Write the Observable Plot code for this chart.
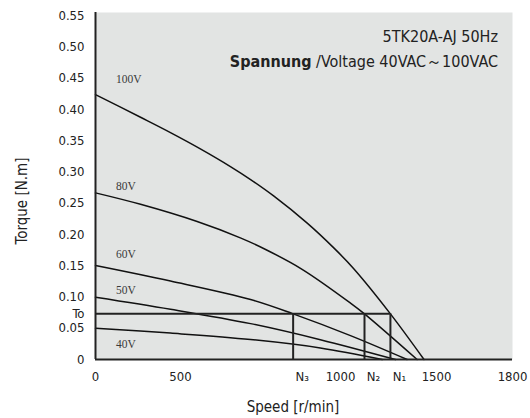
<!DOCTYPE html>
<html>
<head>
<meta charset="utf-8">
<script src="https://cdn.jsdelivr.net/npm/d3@7"></script>
<script src="https://cdn.jsdelivr.net/npm/@observablehq/plot@0.6"></script>
<style>
  html, body { margin: 0; padding: 0; background: #fff; }
  #chart { position: relative; width: 530px; height: 418px; }
  #title {
    position: absolute; right: 32px; top: 24px;
    text-align: right; line-height: 25px; font-size: 16px; color: #222;
    font-family: "Liberation Sans Narrow", "DejaVu Sans Condensed", "Arial Narrow", sans-serif;
    white-space: nowrap;
  }
  #title b { font-weight: bold; }
</style>
</head>
<body>
<div id="chart">
  <div id="title">5TK20A-AJ 50Hz<br><b>Spannung</b> /Voltage 40VAC～100VAC</div>
</div>
<script>
// Speed–torque curves of the 5TK20A-AJ motor at 50 Hz, for several supply voltages.
const speedTicks = [0, 500, 1000, 1500, 1800];
const torqueTicks = [0, 0.05, 0.10, 0.15, 0.20, 0.25, 0.30, 0.35, 0.40, 0.45, 0.50, 0.55];

const speed100 = [0, 265, 441, 562, 656, 719, 791, 896, 979, 1069, 1260, 1435];
const torque100 = [0.4237, 0.3874, 0.3629, 0.3369, 0.3086, 0.2878, 0.2616, 0.2181, 0.1785, 0.1452, 0.073, 0];
const speed80 = [0, 265, 552, 687, 766, 880, 1052, 1125, 1399];
const torque80 = [0.2665, 0.2482, 0.2207, 0.1946, 0.1760, 0.1443, 0.0903, 0.073, 0];
const speed60 = [0, 441, 719, 852, 1052, 1347];
const torque60 = [0.1503, 0.1255, 0.0959, 0.073, 0.0382, 0];
const speed50 = [0, 441, 719, 937, 1286];
const torque50 = [0.0996, 0.0804, 0.0574, 0.0317, 0];
const speed40 = [0, 441, 719, 937, 1217];
const torque40 = [0.050, 0.0422, 0.032, 0.0185, 0];

const voltages = ["100V", "80V", "60V", "50V", "40V"];
const voltageLabelSpeed = [120, 120, 120, 120, 120];
const voltageLabelTorque = [0.448, 0.277, 0.169, 0.111, 0.025];

// rated torque To and the speeds N3, N2, N1 where it is reached
const To = 0.073;
const nNames = ["N₃", "N₂", "N₁"];
const nSpeeds = [852, 1125, 1260];

// The speed axis is not evenly graduated: each labelled interval gets its own width.
const speedAxis = d3.scaleLinear().domain(speedTicks).range([0, 85, 245, 341, 417]);
const sx = v => speedAxis(v);

const curves = [
  [voltages[0], speed100, torque100],
  [voltages[1], speed80, torque80],
  [voltages[2], speed60, torque60],
  [voltages[3], speed50, torque50],
  [voltages[4], speed40, torque40]
].flatMap(([v, s, t]) => s.map((sp, i) => ({voltage: v, speed: sp, torque: t[i]})));

const voltageLabels = voltages.map((v, i) => ({label: v, speed: voltageLabelSpeed[i], torque: voltageLabelTorque[i]}));
const nMarks = nNames.map((n, i) => ({name: n, speed: nSpeeds[i]}));

const narrow = '"Liberation Sans Narrow", "DejaVu Sans Condensed", "Arial Narrow", sans-serif';
const ink = "#222";

const chart = Plot.plot({
  width: 530,
  height: 418,
  marginLeft: 95,
  marginRight: 18,
  marginTop: 12,
  marginBottom: 59,
  style: {fontFamily: narrow, fontSize: "13px", color: ink, background: "#fff"},
  x: {domain: [sx(0), sx(1800)]},
  y: {domain: [0, 0.555]},
  marks: [
    Plot.frame({fill: "#e2e4e3", stroke: "none"}),
    Plot.axisX({ticks: speedTicks.map(sx), tickSize: 0, tickPadding: 12, label: null, fontSize: 13,
      tickFormat: d => String(Math.round(speedAxis.invert(d)))}),
    Plot.axisY({ticks: [...torqueTicks, To], tickSize: 0, tickPadding: 11, label: null, fontSize: 13,
      tickFormat: d => d === To ? "To" : d === 0 ? "0" : d.toFixed(2)}),
    Plot.text(nMarks, {x: d => sx(d.speed), text: "name", frameAnchor: "bottom", lineAnchor: "top",
      dy: 12, dx: 9, fontSize: 13, fill: ink}),
    Plot.line(curves, {x: d => sx(d.speed), y: "torque", z: "voltage", curve: "catmull-rom", stroke: "#111", strokeWidth: 1.5}),
    Plot.ruleY([To], {x1: sx(0), x2: sx(nSpeeds[2]), stroke: ink, strokeWidth: 2}),
    Plot.ruleX(nSpeeds, {x: d => sx(d), y1: 0, y2: To, stroke: ink, strokeWidth: 2}),
    Plot.text(voltageLabels, {x: d => sx(d.speed), y: "torque", text: "label", textAnchor: "start",
      fontFamily: '"Liberation Serif", "DejaVu Serif", serif', fontSize: 11.5, fill: "#3a3a3a"}),
    Plot.ruleX([sx(0)], {stroke: ink, strokeWidth: 2}),
    Plot.ruleY([0], {stroke: ink, strokeWidth: 2}),
    Plot.text(["Torque [N.m]"], {frameAnchor: "left", textAnchor: "middle", dx: -73, dy: 15, rotate: -90, fontSize: 15, fill: ink}),
    Plot.text(["Speed [r/min]"], {frameAnchor: "bottom", textAnchor: "middle", dx: -11, dy: 52, fontSize: 15, fill: ink})
  ]
});

document.getElementById("chart").prepend(chart);
</script>
</body>
</html>
